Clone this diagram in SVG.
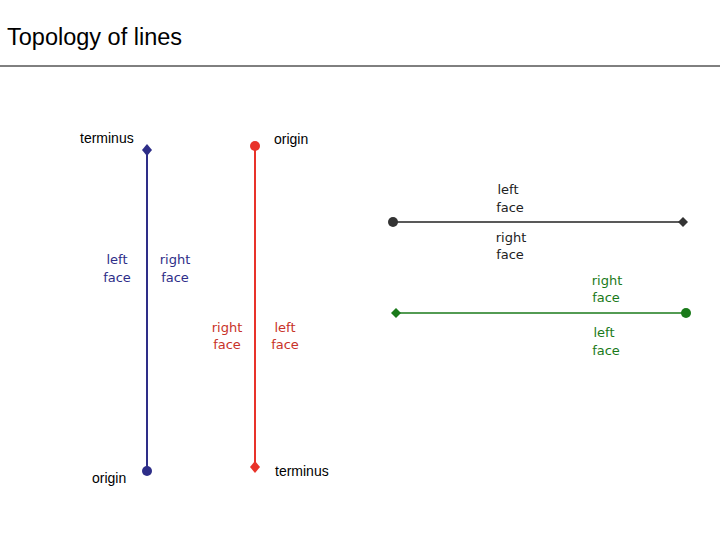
<svg xmlns="http://www.w3.org/2000/svg" width="720" height="540" viewBox="0 0 720 540">
<style>
.t{font-family:"Liberation Sans",Arial,sans-serif;font-size:14px;fill:#000}
.f{font-family:"DejaVu Sans",sans-serif;font-size:13px;text-anchor:middle}
.title{font-family:"Liberation Sans",Arial,sans-serif;font-size:23.5px;fill:#000}
</style>
<rect width="720" height="540" fill="#fff"/>
<text class="title" x="7" y="45">Topology of lines</text>
<line x1="0" y1="66" x2="720" y2="66" stroke="#000" stroke-width="1"/>
<g id="connectors">
<line x1="147" y1="150" x2="147" y2="471" stroke="#2e2e88" stroke-width="2"/>
<line x1="255" y1="146" x2="255" y2="467" stroke="#e8332a" stroke-width="2"/>
<line x1="393" y1="222" x2="683" y2="222" stroke="#222" stroke-width="1.3"/>
<line x1="396" y1="313" x2="686" y2="313" stroke="#1a7a1a" stroke-width="1.5"/>
</g>
<g id="blue">
<path d="M147 144 L152 150 L147 156 L142 150 Z" fill="#2e2e88"/>
<circle cx="147" cy="471" r="5" fill="#2e2e88"/>
<text class="t" x="80" y="143">terminus</text>
<text class="t" x="92" y="483">origin</text>
<text class="f" fill="#2e2e88" x="117" y="264">left</text>
<text class="f" fill="#2e2e88" x="117" y="282">face</text>
<text class="f" fill="#2e2e88" x="175" y="264">right</text>
<text class="f" fill="#2e2e88" x="175" y="282">face</text>
</g>
<g id="red">
<circle cx="255" cy="146" r="5" fill="#e8332a"/>
<path d="M255 461 L260 467 L255 473 L250 467 Z" fill="#e8332a"/>
<text class="t" x="274" y="144">origin</text>
<text class="t" x="275" y="476">terminus</text>
<text class="f" fill="#c83228" x="227" y="332">right</text>
<text class="f" fill="#c83228" x="227" y="349">face</text>
<text class="f" fill="#c83228" x="285" y="332">left</text>
<text class="f" fill="#c83228" x="285" y="349">face</text>
</g>
<g id="black">
<circle cx="393" cy="222" r="5" fill="#333"/>
<path d="M683 217 L688 222 L683 227 L678 222 Z" fill="#333"/>
<text class="f" fill="#222" x="508" y="194">left</text>
<text class="f" fill="#222" x="510" y="212">face</text>
<text class="f" fill="#222" x="511" y="242">right</text>
<text class="f" fill="#222" x="510" y="259">face</text>
</g>
<g id="green">
<path d="M396 308 L401 313 L396 318 L391 313 Z" fill="#1a7a1a"/>
<circle cx="686" cy="313" r="5" fill="#1a7a1a"/>
<text class="f" fill="#1a7a1a" x="607" y="285">right</text>
<text class="f" fill="#1a7a1a" x="606" y="302">face</text>
<text class="f" fill="#1a7a1a" x="604" y="337">left</text>
<text class="f" fill="#1a7a1a" x="606" y="355">face</text>
</g>
</svg>
